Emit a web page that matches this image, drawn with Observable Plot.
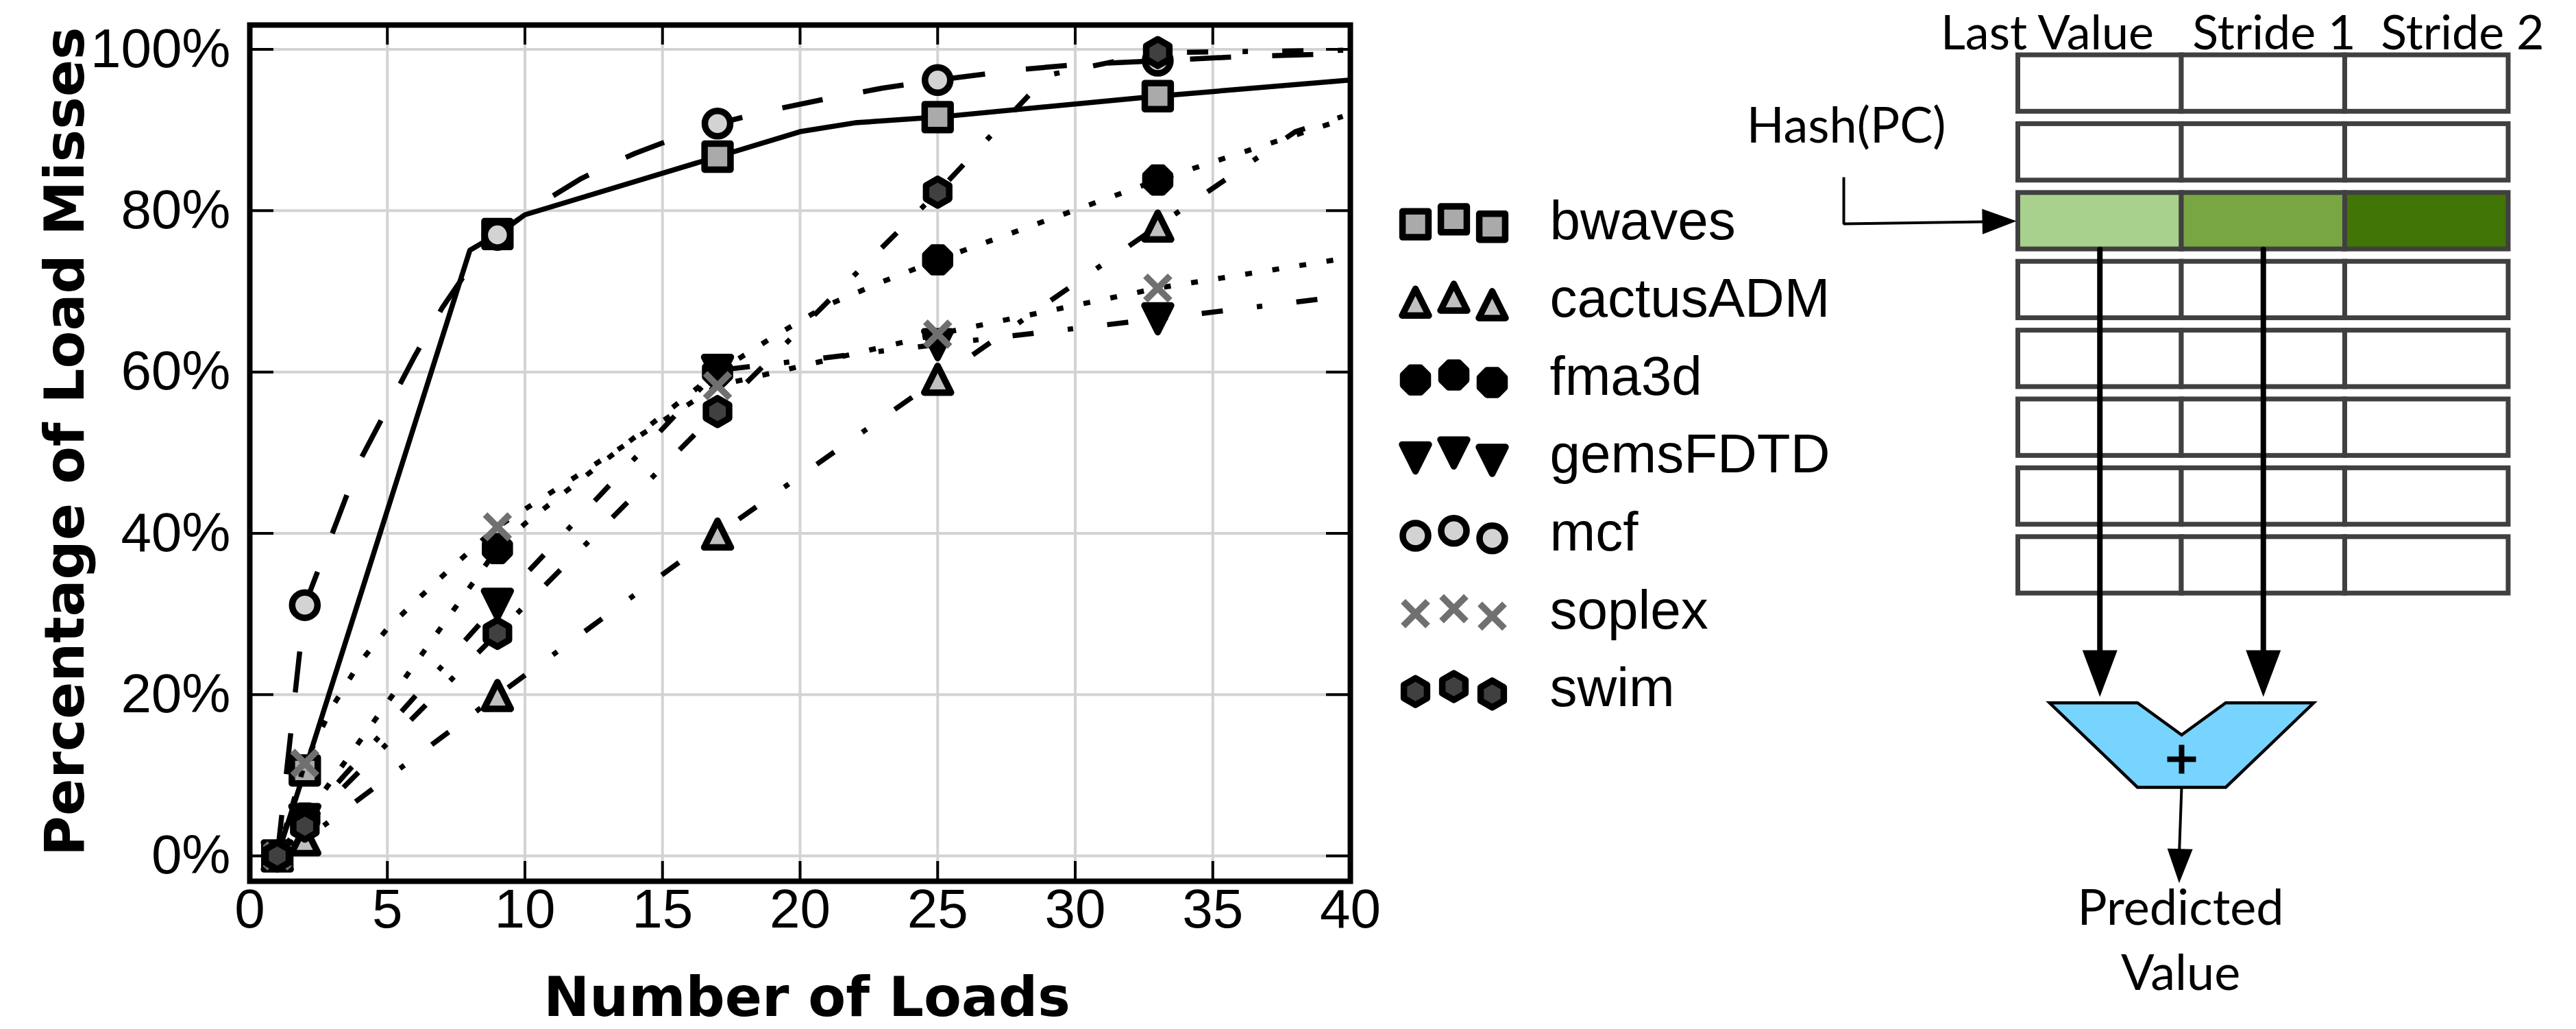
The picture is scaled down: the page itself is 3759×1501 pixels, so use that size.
<!DOCTYPE html>
<html>
<head>
<meta charset="utf-8">
<script src="https://cdn.jsdelivr.net/npm/d3@7"></script>
<script src="https://cdn.jsdelivr.net/npm/@observablehq/plot@0.6"></script>
<style>
  html, body { margin: 0; padding: 0; background: #fff; }
  #root { position: relative; width: 3759px; height: 1501px; background: #fff; overflow: hidden; }
  #root > svg { position: absolute; top: 0; max-width: none; background: transparent; overflow: visible; }
</style>
</head>
<body>
<div id="root"></div>
<script>
// ------------------------------------------------------------------ data
const seriesNames = ["bwaves", "cactusADM", "fma3d", "gemsFDTD", "mcf", "soplex", "swim"];
const markerLoads = [1, 2, 9, 17, 25, 33];

const bwavesMarkers    = [0, 10.6, 77.1, 86.7, 91.6, 94.2];
const cactusADMMarkers = [0, 2.0, 19.9, 39.9, 59.1, 78.1];
const fma3dMarkers     = [0, 4.7, 38.1, 60.0, 73.9, 83.8];
const gemsFDTDMarkers  = [0, 4.5, 31.2, 60.2, 63.4, 66.6];
const mcfMarkers       = [0, 31.1, 77.0, 90.8, 96.2, 98.6];
const soplexMarkers    = [0, 11.5, 40.8, 58.3, 64.7, 70.4];
const swimMarkers      = [0, 3.7, 27.6, 55.1, 82.3, 99.6];

// line vertices [loads, % misses]
const bwavesLine = [[1,0],[2,10.6],[8,75.1],[9,77.1],[10,79.5],[17,86.7],[20,89.8],[22,90.9],[25,91.6],[33,94.2],[40,96.2]];
const cactusADMLine = [[1,0],[2,2.0],[9,19.9],[17,39.9],[25,59.1],[33,78.1],[38,89.8],[40,92.0]];
const fma3dLine = [[1,0],[2,4.7],[9,38.1],[10,41.2],[17,60.0],[19,64.3],[21,68.3],[23,71.2],[25,73.9],[33,83.8],[40,91.6]];
const gemsFDTDLine = [[1,0],[2,4.5],[9,31.2],[17,60.2],[25,63.4],[33,66.6],[40,69.5]];
const mcfLine = [[1,0],[2,31.1],[3,40],[4,49],[5,55.5],[6,62],[7,68],[8,73],[9,77.0],[10,79.5],[11,81.8],[12,83.9],[13,85.6],[14,87.1],[15,88.4],[17,90.8],[19,92.5],[21,93.9],[23,95.2],[25,96.2],[28,97.5],[30,98.1],[33,98.6],[36,99.1],[40,99.5]];
const soplexLine = [[1,0],[2,11.5],[3,18.5],[4,24.0],[5,28.2],[6,31.5],[7,34.7],[8,37.8],[9,40.8],[17,58.3],[25,64.7],[33,70.4],[40,74.2]];
const swimLine = [[1,0],[2,3.7],[9,27.6],[17,55.1],[25,82.3],[29,96.8],[33,99.6],[40,99.9]];

const xTicks = [0, 5, 10, 15, 20, 25, 30, 35, 40];
const yTicks = [0, 20, 40, 60, 80, 100];
const xTitle = "Number of Loads";
const yTitle = "Percentage of Load Misses";

const legendOffsets = [0.375, 0.5, 0.3125];   // three legend markers per entry

// diagram content
const tableColumns = ["Last Value", "Stride 1", "Stride 2"];
const tableRows = [0, 1, 2, 3, 4, 5, 6, 7];
const hashedRow = 2;
const hashedRowColors = ["#a9d18e", "#78a642", "#417505"];
const adderInputs = [0, 1];               // columns summed by the adder
const inputLabel = "Hash(PC)";
const outputLabel = ["Predicted", "Value"];

// ------------------------------------------------------------------ helpers
const markerValues = [bwavesMarkers, cactusADMMarkers, fma3dMarkers, gemsFDTDMarkers, mcfMarkers, soplexMarkers, swimMarkers];
const lineValues = [bwavesLine, cactusADMLine, fma3dLine, gemsFDTDLine, mcfLine, soplexLine, swimLine];

function makeSymbol(fn) { return {draw(ctx, size) { fn(ctx, Math.sqrt(size / Math.PI)); }}; }
function polygon(c, pts) { pts.forEach(([x, y], k) => k ? c.lineTo(x, y) : c.moveTo(x, y)); c.closePath(); }
const SYM = {
  square: makeSymbol((c, r) => { const s = r * 0.97; polygon(c, [[-s,-s],[s,-s],[s,s],[-s,s]]); }),
  circle: makeSymbol((c, r) => { const s = r * 0.95; c.moveTo(s, 0); c.arc(0, 0, s, 0, 2 * Math.PI); c.closePath(); }),
  triangleUp: makeSymbol((c, r) => polygon(c, [[0,-r],[r,r],[-r,r]])),
  triangleDown: makeSymbol((c, r) => polygon(c, [[0,r],[r,-r],[-r,-r]])),
  octagon: makeSymbol((c, r) => polygon(c, d3.range(8).map(k => { const a = Math.PI / 8 + k * Math.PI / 4; return [r * Math.cos(a), r * Math.sin(a)]; }))),
  hexagon: makeSymbol((c, r) => polygon(c, d3.range(6).map(k => { const a = -Math.PI / 2 + k * Math.PI / 3; return [r * Math.cos(a), r * Math.sin(a)]; }))),
  x: makeSymbol((c, r) => { const s = r * 0.92; c.moveTo(-s,-s); c.lineTo(s,s); c.moveTo(s,-s); c.lineTo(-s,s); })
};
function arrowHead(len, wid) { return {draw(c) { polygon(c, [[0,0],[-wid/2,-len],[wid/2,-len]]); }}; }
function plusSign(span, thick) { return {draw(c) { const a = span/2, t = thick/2; polygon(c, [[-t,-a],[t,-a],[t,-t],[a,-t],[a,t],[t,t],[t,a],[-t,a],[-t,t],[-a,t],[-a,-t],[-t,-t]]); }}; }

const DASHDOT = "31,50,8,50", DOTTED = "10,30", DASHED = "60,60";
const seriesStyle = {
  bwaves:    {symbol: SYM.square,       fill: "#aaaaaa", stroke: "black",   dash: null},
  cactusADM: {symbol: SYM.triangleUp,   fill: "#c0c0c0", stroke: "black",   dash: DASHDOT},
  fma3d:     {symbol: SYM.octagon,      fill: "black",   stroke: "black",   dash: DOTTED},
  gemsFDTD:  {symbol: SYM.triangleDown, fill: "black",   stroke: "black",   dash: DASHDOT},
  mcf:       {symbol: SYM.circle,       fill: "#d3d3d3", stroke: "black",   dash: DASHED},
  soplex:    {symbol: SYM.x,            fill: "none",    stroke: "#707070", dash: DOTTED},
  swim:      {symbol: SYM.hexagon,      fill: "#404040", stroke: "black",   dash: DASHDOT}
};
const MARKER_R = 19.5, MARKER_SW = 9.5;
function markerOpts(st) {
  return {r: MARKER_R, symbol: st.symbol, fill: st.fill, stroke: st.stroke, strokeWidth: MARKER_SW,
          strokeLinejoin: "round", strokeLinecap: "butt"};
}

const root = document.getElementById("root");
const FONT = "'Liberation Sans', Arial, Helvetica, sans-serif";
const TITLE_FONT = "'DejaVu Sans', Verdana, sans-serif";

// ------------------------------------------------------------------ chart
const CH = {width: 2080, height: 1501, left: 364, right: 110, top: 36, bottom: 216};
const plotW = CH.width - CH.left - CH.right, plotH = CH.height - CH.top - CH.bottom;

const seriesMarks = seriesNames.flatMap((name, i) => {
  const st = seriesStyle[name];
  const lineOpts = {x: d => d[0], y: d => d[1], stroke: "black", strokeWidth: 7.5,
                    strokeLinecap: "butt", strokeLinejoin: "round", clip: true};
  if (st.dash) lineOpts.strokeDasharray = st.dash;
  return [
    Plot.line(lineValues[i], lineOpts),
    Plot.dot(markerLoads, {x: d => d, y: (d, j) => markerValues[i][j], ...markerOpts(st)})
  ];
});

const chart = Plot.plot({
  width: CH.width, height: CH.height,
  marginLeft: CH.left, marginRight: CH.right, marginTop: CH.top, marginBottom: CH.bottom,
  style: {fontFamily: FONT, background: "transparent", maxWidth: "none", color: "black", overflow: "visible"},
  x: {domain: [0, 40], axis: null},
  y: {domain: [-3.14, 103.02], axis: null},
  marks: [
    Plot.gridX(xTicks, {stroke: "#d3d3d3", strokeOpacity: 1, strokeWidth: 4}),
    Plot.gridY(yTicks, {stroke: "#d3d3d3", strokeOpacity: 1, strokeWidth: 4}),
    Plot.tickX(xTicks, {x: d => d, insetTop: plotH - 29, stroke: "black", strokeWidth: 4}),
    Plot.tickX(xTicks, {x: d => d, insetBottom: plotH - 29, stroke: "black", strokeWidth: 4}),
    Plot.tickY(yTicks, {y: d => d, insetRight: plotW - 35, stroke: "black", strokeWidth: 4}),
    Plot.tickY(yTicks, {y: d => d, insetLeft: plotW - 35, stroke: "black", strokeWidth: 4}),
    Plot.axisX(xTicks, {tickSize: 0, tickPadding: 11, fontSize: 80, label: null, tickFormat: d => `${d}`}),
    Plot.axisY(yTicks, {tickSize: 0, tickPadding: 28, fontSize: 80, label: null, tickFormat: d => `${d}%`}),
    ...seriesMarks,
    Plot.frame({stroke: "black", strokeWidth: 8}),
    Plot.text([xTitle], {frameAnchor: "bottom", textAnchor: "middle", dy: 196, dx: 10, lineAnchor: "bottom", text: d => d,
      fontSize: 80, fontWeight: "bold", fontFamily: TITLE_FONT}),
    Plot.text([yTitle], {frameAnchor: "left", textAnchor: "middle", rotate: -90, dx: -243, dy: -17, lineAnchor: "bottom", text: d => d,
      fontSize: 80, fontWeight: "bold", fontFamily: TITLE_FONT})
  ]
});
chart.style.left = "0px";
root.appendChild(chart);

// ------------------------------------------------------------------ legend
const LEG_PITCH = 113.6;
const legendMarks = seriesNames.map((name, i) =>
  Plot.dot(legendOffsets, {x: (d, j) => j, y: d => i + ((0.5 - d) * 58 - 3) / LEG_PITCH, ...markerOpts(seriesStyle[name])})
);
const legend = Plot.plot({
  width: 760, height: 1501, margin: 0,
  style: {fontFamily: FONT, background: "transparent", maxWidth: "none", color: "black", overflow: "visible"},
  x: {domain: [0, 2], range: [65, 177], axis: null},
  y: {domain: [0, 6], range: [322.4, 322.4 + 6 * LEG_PITCH], axis: null},
  marks: [
    ...legendMarks,
    Plot.text(seriesNames, {x: () => 3.5, y: (d, i) => i, text: d => d, textAnchor: "start", fontSize: 80})
  ]
});
legend.style.left = "2000px";
root.appendChild(legend);

// ------------------------------------------------------------------ diagram (table units: 1 col, 1 row pitch)
const ROW_H = 0.82;
const L = {
  headerX: [0.178, 1.566, 2.719], headerY: -0.085,
  hashLabel: [-1.052, 1.265],
  hashCorner: [-1.067, 1.773],
  adderCx: d3.mean(adderInputs, c => c + 0.5),
  adderTop: 9.41, adderNotch: 9.876, adderBottom: 10.637, adderOuter: 0.808, adderInner: 0.27,
  plusY: 10.229, outTip: 12.03, outLabelY: [12.63, 13.58]
};
const rowMid = hashedRow + ROW_H / 2;
const hashPath = [L.hashCorner, [L.hashCorner[0], rowMid + 0.04], [-0.21, rowMid + 0.01]];
const inTip = L.adderTop - 0.087;
const cells = tableRows.flatMap(row => tableColumns.map((col, c) => ({row, c, fill: row === hashedRow ? hashedRowColors[c] : "white"})));
const feedLines = adderInputs.map(c => [[c + 0.5, hashedRow + ROW_H], [c + 0.5, inTip - 0.5]]);
const cx = L.adderCx;
const adderShape = [
  [cx - L.adderOuter, L.adderTop], [cx - L.adderInner, L.adderTop], [cx, L.adderNotch],
  [cx + L.adderInner, L.adderTop], [cx + L.adderOuter, L.adderTop],
  [cx + L.adderInner, L.adderBottom], [cx - L.adderInner, L.adderBottom]
];
const outPath = [[cx, L.adderBottom], [cx - 0.015, L.outTip - 0.4]];
const DFONT = "Lato, 'Open Sans', sans-serif";

const diagram = Plot.plot({
  width: 1259, height: 1501, margin: 0,
  style: {fontFamily: DFONT, background: "transparent", maxWidth: "none", color: "black", overflow: "visible"},
  x: {domain: [0, 3], range: [444.5, 1160], axis: null},
  y: {domain: [0, 8], range: [80, 80 + 8 * 100.4], axis: null},
  color: {type: "identity"},
  marks: [
    Plot.rect(cells, {x1: d => d.c, x2: d => d.c + 1, y1: d => d.row, y2: d => d.row + ROW_H,
      fill: d => d.fill, stroke: "#404040", strokeWidth: 7}),
    Plot.text(tableColumns, {x: (d, i) => L.headerX[i], y: () => L.headerY, text: d => d, lineAnchor: "bottom", fontSize: 70}),
    Plot.text([inputLabel], {x: () => L.hashLabel[0], y: () => L.hashLabel[1], text: d => d, lineAnchor: "bottom", fontSize: 72}),
    Plot.line(hashPath, {x: d => d[0], y: d => d[1], stroke: "black", strokeWidth: 4, strokeLinejoin: "miter", strokeLinecap: "butt"}),
    Plot.dot([rowMid], {x: () => -0.01, y: d => d, symbol: arrowHead(50, 37), rotate: -91, fill: "black", stroke: "none"}),
    ...feedLines.map(p => Plot.line(p, {x: d => d[0], y: d => d[1], stroke: "black", strokeWidth: 8, strokeLinecap: "round"})),
    Plot.dot(adderInputs, {x: c => c + 0.5, y: () => inTip, symbol: arrowHead(68, 51), fill: "black", stroke: "none"}),
    Plot.line(adderShape, {x: d => d[0], y: d => d[1], curve: "linear-closed", fill: "#77d4fe", stroke: "black", strokeWidth: 4.5, strokeLinejoin: "miter", strokeMiterlimit: 10}),
    Plot.dot([cx], {x: d => d, y: () => L.plusY, symbol: plusSign(42, 8), fill: "black", stroke: "none"}),
    Plot.line(outPath, {x: d => d[0], y: d => d[1], stroke: "black", strokeWidth: 4, strokeLinecap: "butt"}),
    Plot.dot([cx - 0.015], {x: d => d, y: () => L.outTip, symbol: arrowHead(50, 37), rotate: 1.4, fill: "black", stroke: "none"}),
    Plot.text(outputLabel, {x: () => cx - 0.006, y: (d, i) => L.outLabelY[i], text: d => d, lineAnchor: "bottom", fontSize: 72})
  ]
});
diagram.style.left = "2500px";
root.appendChild(diagram);
</script>
</body>
</html>
